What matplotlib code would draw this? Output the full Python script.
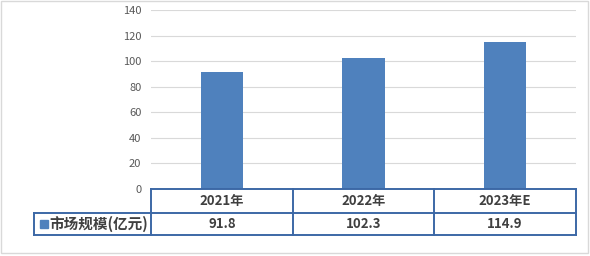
import matplotlib.pyplot as plt
from matplotlib.patches import Rectangle
from matplotlib.lines import Line2D

plt.rcParams['font.family'] = ['Noto Sans CJK SC', 'DejaVu Sans']

# 数据
years = ['2021年', '2022年', '2023年E']
values = [91.8, 102.3, 114.9]
series_name = '市场规模(亿元)'
bar_color = '#4F81BD'
line_color = '#3C68A6'
text_color = '#404040'

fig = plt.figure(figsize=(5.9, 2.56), dpi=100)
ax = fig.add_axes([0.256, 0.262, 0.72, 0.699])

x = list(range(len(years)))
ax.bar(x, values, width=0.3, color=bar_color, zorder=3)
ax.set_xlim(-0.5, len(years) - 0.5)
ax.set_ylim(0, 140)
ax.set_yticks(range(0, 141, 20))
ax.tick_params(axis='y', length=0, labelsize=8, labelcolor='#595959', pad=7)
ax.set_xticks([])
ax.grid(axis='y', color='#D9D9D9', linewidth=0.8, zorder=0)
for s in ax.spines.values():
    s.set_visible(False)

# 数据表
r1 = -24 / 179
r2 = -46 / 179
lx = -117 / 425
lw = 1.4
kw = dict(color=line_color, linewidth=lw, transform=ax.transAxes, clip_on=False, zorder=5)
ax.add_line(Line2D([0, 1], [0, 0], **kw))
ax.add_line(Line2D([lx, 1], [r1, r1], **kw))
ax.add_line(Line2D([lx, 1], [r2, r2], **kw))
ax.add_line(Line2D([lx, lx], [r1, r2], **kw))
for i in range(len(years) + 1):
    xx = i / len(years)
    ax.add_line(Line2D([xx, xx], [0, r2], **kw))

tr = ax.get_xaxis_transform()
for i, (yr, v) in enumerate(zip(years, values)):
    ax.text(i, r1 / 2, yr, transform=tr, ha='center', va='center',
            fontsize=9.5, fontweight='bold', color=text_color)
    ax.text(i, (r1 + r2) / 2, f'{v}', transform=tr, ha='center', va='center',
            fontsize=9.5, fontweight='bold', color=text_color)

# 图例
ax.add_patch(Rectangle((lx + 0.014, (r1 + r2) / 2 - 0.022), 0.018, 0.044,
                       transform=ax.transAxes, color=bar_color, clip_on=False))
ax.text(lx + 0.036, (r1 + r2) / 2, series_name, transform=ax.transAxes,
        ha='left', va='center', fontsize=10.5, fontweight='bold', color=text_color)

# 外框
fig.patches.append(Rectangle((0.002, 0.01), 0.994, 0.985, transform=fig.transFigure,
                             fill=False, edgecolor='#D9D9D9', linewidth=1))

fig.savefig('out.png', dpi=100)
